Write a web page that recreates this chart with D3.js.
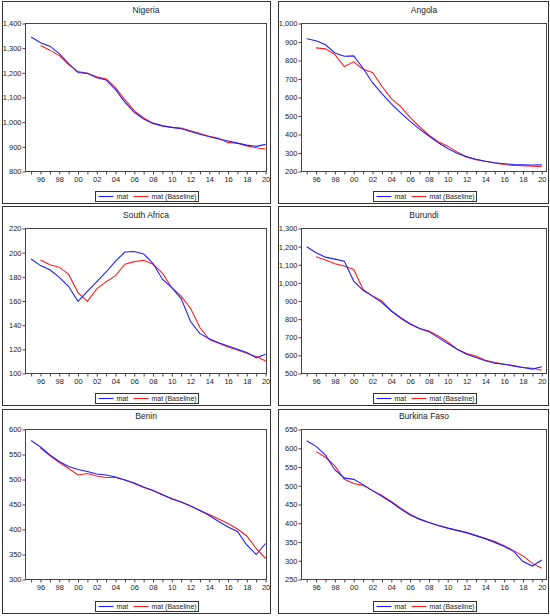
<!DOCTYPE html>
<html lang="en"><head><meta charset="UTF-8">
<title>mat vs mat (Baseline)</title>
<script src="https://d3js.org/d3.v7.min.js"></script>
<style type="text/css">
	body { margin: 0; background: #fff; }
	svg text { font-family: Arial, "Liberation Sans", sans-serif; fill: #222; }
</style>
</head>
<body>
<script type="text/javascript">

	// years on the x axis
	var years = [1995, 1996, 1997, 1998, 1999, 2000, 2001, 2002, 2003, 2004, 2005, 2006, 2007,
		2008, 2009, 2010, 2011, 2012, 2013, 2014, 2015, 2016, 2017, 2018, 2019, 2020];

	var countries = ["Nigeria", "Angola", "South Africa", "Burundi", "Benin", "Burkina Faso"];

	// y axis range and step per country
	var yMin = [800, 200, 100, 500, 300, 250];
	var yMax = [1400, 1000, 220, 1300, 600, 650];
	var yStep = [100, 100, 20, 100, 50, 50];

	// mat series (blue), 1995-2020
	var nigeriaMat = [1345, 1322, 1308, 1278, 1237, 1201, 1198, 1180, 1171, 1132, 1081, 1040, 1013,
		995, 985, 979, 973, 962, 951, 941, 932, 924, 915, 907, 902, 910];
	var angolaMat = [918, 907, 885, 841, 823, 825, 758, 680, 621, 566, 517, 471, 429,
		392, 355, 324, 299, 279, 266, 255, 247, 242, 238, 236, 235, 236];
	var southAfricaMat = [194.8, 189.3, 185.8, 179.5, 172, 159.7, 168, 176, 184, 193, 200.5, 201, 199,
		191, 178, 171, 162, 143, 133, 128.8, 125.5, 122.7, 120, 117.3, 113, 116];
	var burundiMat = [1199, 1166, 1142, 1131, 1120, 1010, 959, 927, 891, 845, 808, 775, 748,
		731, 698, 665, 634, 606, 588, 570, 557, 551, 542, 533, 524, 537];
	var beninMat = [578, 565, 549, 536, 526, 520, 516, 511, 509, 505, 499, 493, 485,
		478, 470, 461, 455, 447, 438, 428, 416, 405, 396, 369, 350, 372];
	var burkinaMat = [620, 605, 582, 542, 521, 517, 503, 487, 472, 456, 438, 422, 411,
		402, 394, 387, 381, 375, 367, 359, 349, 338, 325, 298, 286, 302];

	// mat (Baseline) series (red), starts 1996
	var nigeriaBase = [null, 1311, 1292, 1270, 1233, 1205, 1198, 1184, 1175, 1140, 1091, 1047, 1017,
		996, 985, 979, 976, 965, 954, 943, 935, 917, 915, 904, 896, 891];
	var angolaBase = [null, 868, 863, 832, 767, 793, 753, 735, 661, 594, 551, 493, 442,
		396, 361, 337, 306, 279, 264, 255, 246, 238, 233, 231, 229, 226];
	var southAfricaBase = [null, 194, 190, 188, 182, 167, 159.7, 170, 176, 181, 190.4, 192.6, 193.7,
		190.4, 183, 171, 164, 154, 138, 128, 125, 122, 119.5, 116.7, 114, 110.4];
	var burundiBase = [null, 1144, 1126, 1105, 1093, 1074, 964, 927, 900, 845, 805, 772, 748,
		735, 707, 674, 634, 610, 597, 573, 561, 551, 542, 533, 529, 518];
	var beninBase = [null, 563, 548, 534, 522, 509, 512, 507, 504, 504, 499, 492, 484,
		478, 469, 462, 455, 447, 438, 430, 421, 412, 401, 387, 362, 342];
	var burkinaBase = [null, 591, 576, 553, 517, 506, 501, 487, 474, 458, 440, 424, 411,
		402, 394, 387, 381, 375, 367, 359, 351, 340, 327, 313, 293, 280];

	var matSeries = [nigeriaMat, angolaMat, southAfricaMat, burundiMat, beninMat, burkinaMat];
	var baseSeries = [nigeriaBase, angolaBase, southAfricaBase, burundiBase, beninBase, burkinaBase];

	var w = 550;
	var h = 616;

	// panel geometry (outer box and plot area), per column and row
	var cols = [
		{bx0: 2.5, bx1: 270.5, px0: 25.5, px1: 266.5, x0: 1994.4, x1: 2020.1},
		{bx0: 278.5, bx1: 548.5, px0: 301.5, px1: 546.5, x0: 1994.45, x1: 2020.5}
	];
	var rows = [
		{by0: 1.5, by1: 203.5, py0: 23.5, py1: 171.5},
		{by0: 206.5, by1: 405.5, py0: 228.5, py1: 373.5},
		{by0: 409.5, by1: 613.5, py0: 429.5, py1: 579.5}
	];

	var blue = "#1f1fff";
	var red = "#ff1f1f";

	var svg = d3.select("body")
		.append("svg")
		.attr("width", w)
		.attr("height", h);

	countries.forEach(function(name, i) {
		var c = cols[i % 2];
		var r = rows[Math.floor(i / 2)];
		var g = svg.append("g");

		// outer box
		g.append("rect")
			.attr("x", c.bx0).attr("y", r.by0)
			.attr("width", c.bx1 - c.bx0).attr("height", r.by1 - r.by0)
			.attr("fill", "none").attr("stroke", "#333").attr("stroke-width", 1);

		var xScale = d3.scaleLinear()
			.domain([c.x0, c.x1])
			.range([c.px0, c.px1]);
		var yScale = d3.scaleLinear()
			.domain([yMin[i], yMax[i]])
			.range([r.py1, r.py0]);

		var yTicks = d3.range(yMin[i], yMax[i] + yStep[i] / 2, yStep[i]);

		var yAxis = d3.axisLeft(yScale)
			.tickValues(yTicks)
			.tickFormat(d3.format(","))
			.tickSize(3)
			.tickSizeOuter(0)
			.tickPadding(1);
		var ya = g.append("g")
			.attr("transform", "translate(" + c.px0 + ",0)")
			.call(yAxis);

		var xAxis = d3.axisBottom(xScale)
			.tickValues(years)
			.tickFormat(function(d) { return d % 2 === 0 ? d3.format("02")(d % 100) : ""; })
			.tickSize(3)
			.tickSizeOuter(0)
			.tickPadding(2);
		var xa = g.append("g")
			.attr("transform", "translate(0," + r.py1 + ")")
			.call(xAxis);

		[ya, xa].forEach(function(a) {
			a.select(".domain").remove();
			a.selectAll("line").attr("stroke", "#444");
			a.selectAll("text").attr("font-size", "7.5px").attr("fill", "#222");
		});

		// plot frame
		g.append("rect")
			.attr("x", c.px0).attr("y", r.py0)
			.attr("width", c.px1 - c.px0).attr("height", r.py1 - r.py0)
			.attr("fill", "none").attr("stroke", "#444").attr("stroke-width", 1);

		var line = d3.line()
			.defined(function(d) { return d[1] !== null; })
			.x(function(d) { return xScale(d[0]); })
			.y(function(d) { return yScale(d[1]); });

		g.append("path")
			.datum(years.map(function(y, k) { return [y, baseSeries[i][k]]; }))
			.attr("d", line)
			.attr("fill", "none").attr("stroke", red).attr("stroke-width", 1.1);
		g.append("path")
			.datum(years.map(function(y, k) { return [y, matSeries[i][k]]; }))
			.attr("d", line)
			.attr("fill", "none").attr("stroke", blue).attr("stroke-width", 1.1);

		var cx = (c.px0 + c.px1) / 2;

		// title
		g.append("text")
			.attr("x", cx).attr("y", r.py0 - 11)
			.attr("text-anchor", "middle")
			.attr("font-size", "8.5px")
			.text(name);

		// legend
		var lw = 103, lh = 10;
		var lx = Math.round(cx - lw / 2) + 0.5;
		var ly = r.by1 - 12;
		var lg = g.append("g").attr("transform", "translate(" + lx + "," + ly + ")");
		lg.append("rect")
			.attr("width", lw).attr("height", lh)
			.attr("fill", "#fff").attr("stroke", "#333").attr("stroke-width", 1);
		lg.append("line")
			.attr("x1", 3).attr("x2", 18).attr("y1", lh / 2).attr("y2", lh / 2)
			.attr("stroke", blue).attr("stroke-width", 1.1);
		lg.append("text")
			.attr("x", 21).attr("y", lh / 2 + 2.5)
			.attr("font-size", "7px")
			.text("mat");
		lg.append("line")
			.attr("x1", 38).attr("x2", 53).attr("y1", lh / 2).attr("y2", lh / 2)
			.attr("stroke", red).attr("stroke-width", 1.1);
		lg.append("text")
			.attr("x", 56).attr("y", lh / 2 + 2.5)
			.attr("font-size", "7px")
			.text("mat (Baseline)");
	});

</script>
</body>
</html>
